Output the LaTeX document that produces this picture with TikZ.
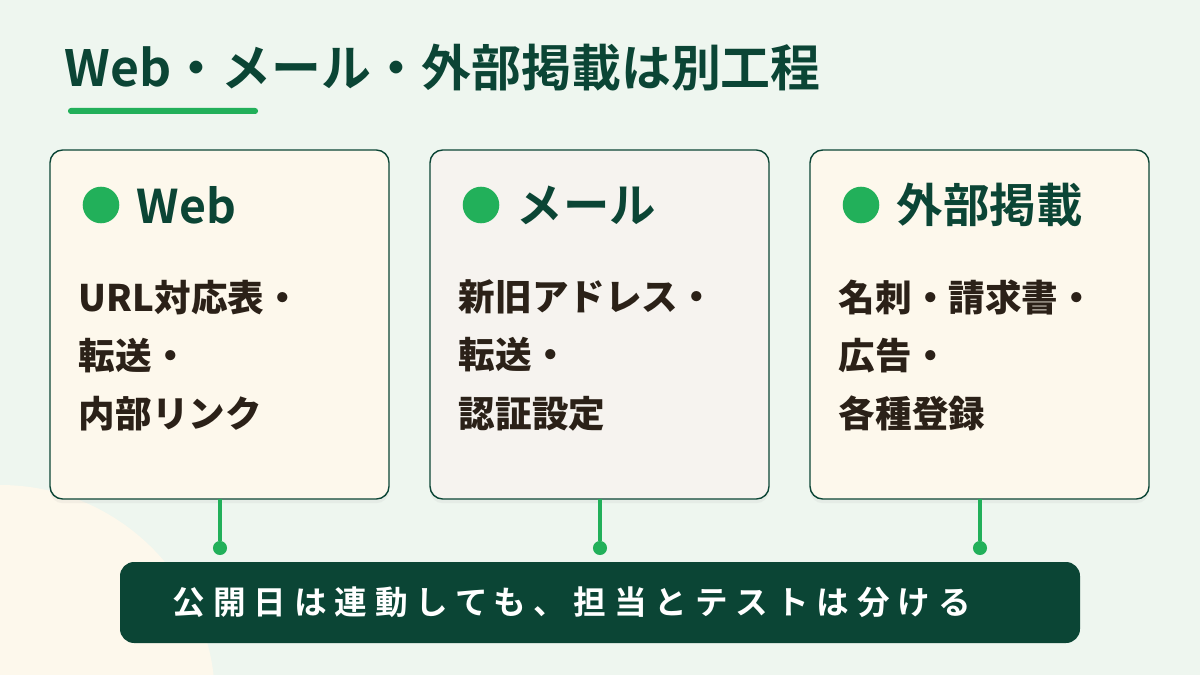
\documentclass[tikz,border=0pt]{standalone}
\usepackage{fontspec}
\setmainfont{Noto Sans CJK JP}
\newfontfamily\jpb{Noto Sans CJK JP}[BoldFont={* Bold},UprightFont={* Bold}]
\newfontfamily\jpbs{Noto Sans CJK JP}[UprightFont={* Bold},LetterSpace=24]
\usetikzlibrary{shadows}
\definecolor{bg}{HTML}{EEF6EF}
\definecolor{cream}{HTML}{FDF8EC}
\definecolor{greyc}{HTML}{F6F3EF}
\definecolor{dg}{HTML}{0B4535}
\definecolor{gr}{HTML}{22B05A}
\definecolor{ink}{HTML}{2B2118}
\begin{document}
\begin{tikzpicture}[x=0.025cm,y=-0.025cm,
  card/.style={draw=dg,line width=1pt,rounded corners=9pt,drop shadow={opacity=0.08,shadow xshift=0pt,shadow yshift=-3pt}},
  head/.style={anchor=west,text=dg,font=\jpb\fontsize{33}{36}\selectfont},
  body/.style={anchor=north west,text=ink,align=left,font=\fontsize{26}{41.3}\selectfont\bfseries},
  dot/.style={circle,fill=gr,inner sep=0pt,minimum size=#1}]
\fill[bg] (0,0) rectangle (1200,675);
\begin{scope}
\clip (0,0) rectangle (1200,675);
\fill[cream] (0,700) circle (215);
\end{scope}
\node[anchor=west,text=dg,font=\jpb\fontsize{35.5}{40}\selectfont] (title) at (60,68) {Web・メール・外部掲載は別工程};
\fill[gr,rounded corners=2pt] (68,108) rectangle (258,114);
\foreach \i/\x/\c/\h/\t in {a/50/cream/Web/{URL対応表・\\転送・\\内部リンク},b/430/greyc/メール/{新旧アドレス・\\転送・\\認証設定},c/810/cream/外部掲載/{名刺・請求書・\\広告・\\各種登録}}{
  \path[card,fill=\c] (\x,150) rectangle ++(339,349);
  \node[dot=26pt] (d\i) at (\x+51,205) {};
  \node[head] (h\i) at (\x+82,205) {\h};
  \node[body] (t\i) at (\x+24,275) {\t};
  \coordinate (s\i) at (\x+170,499);
  \node[dot=10pt] (e\i) at (\x+170,548) {};
  \draw[gr,line width=2.5pt] (s\i) -- (e\i);
}
\fill[dg,rounded corners=10pt] (120,562) rectangle (1080,643);
\node[anchor=west,text=white,font=\jpbs\fontsize{23.2}{26}\selectfont] (bar) at (168,602) {公開日は連動しても、担当とテストは分ける};
\end{tikzpicture}
\end{document}
